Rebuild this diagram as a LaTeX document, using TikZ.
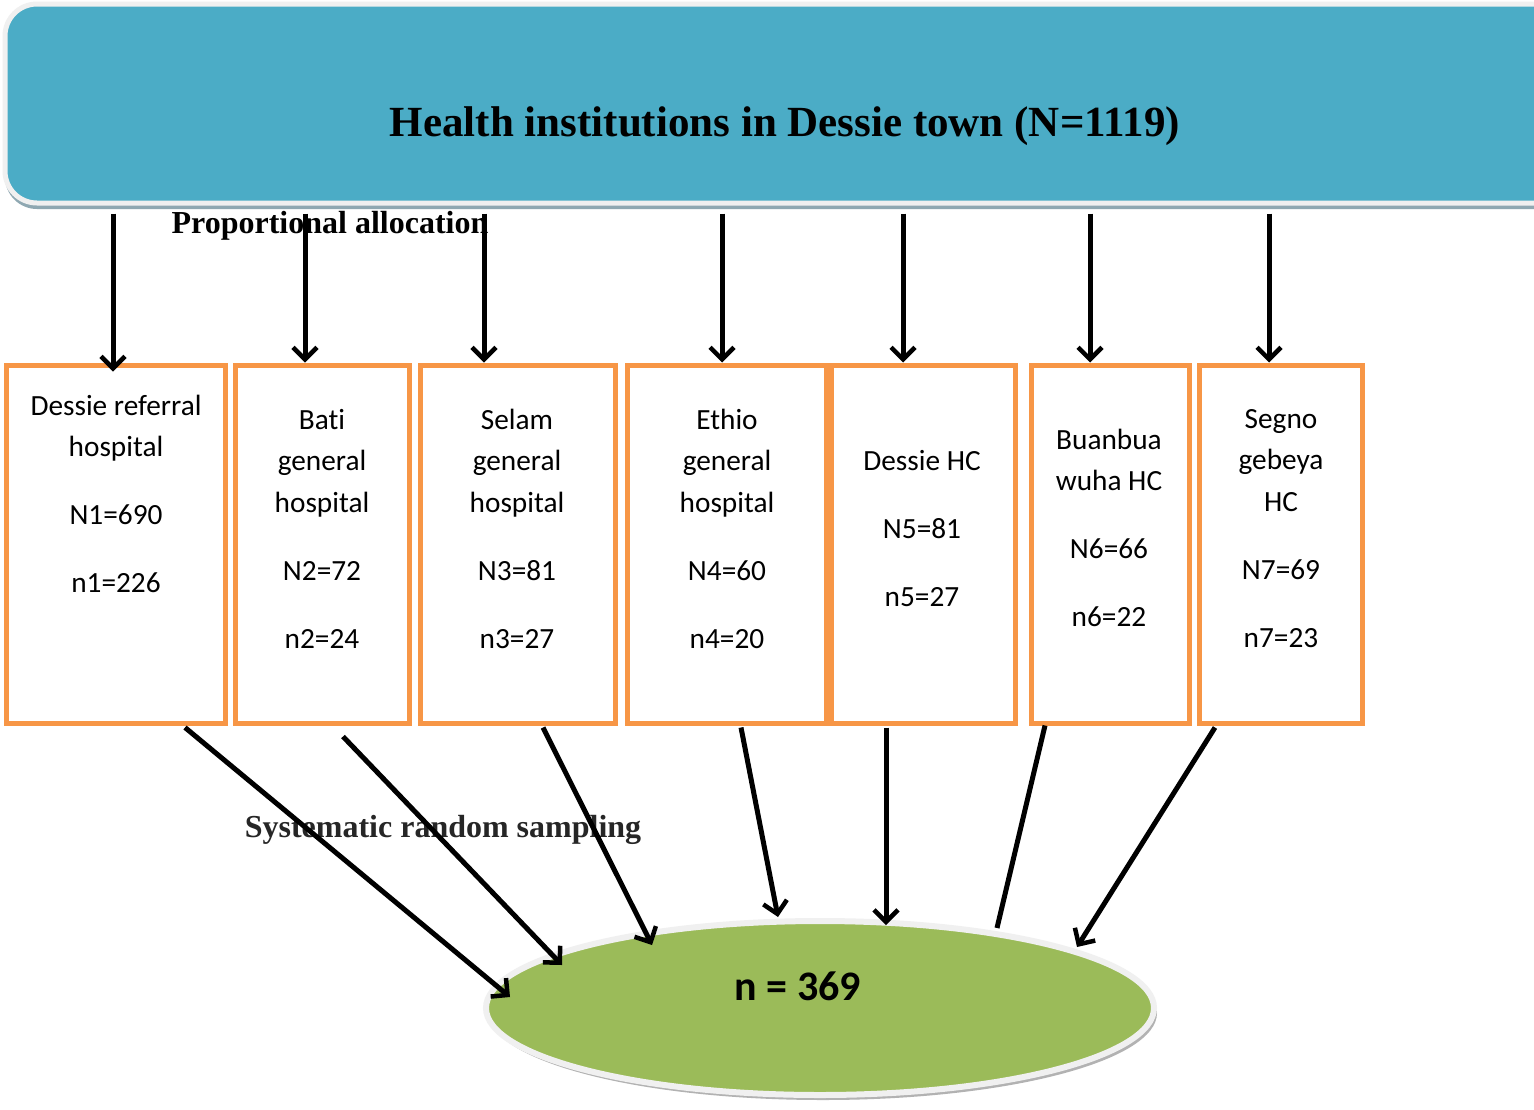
\documentclass[tikz,border=0pt]{standalone}
\usepackage{fontspec}
\setmainfont{Liberation Serif}
\newfontfamily\calibrifont[Ligatures=NoCommon]{Carlito}
\usetikzlibrary{arrows.meta,shapes.geometric,shadows,calc}
\definecolor{boxorange}{HTML}{F79646}
\definecolor{bannerblue}{HTML}{4BACC6}
\definecolor{ellgreen}{HTML}{9BBB59}
\definecolor{ringgray}{HTML}{F0F0F0}
\definecolor{shadowgray}{HTML}{8FA8B2}
\begin{document}
\begin{tikzpicture}[x=1pt,y=-1pt,
  inst/.style={draw=boxorange, line width=5pt, rectangle, inner sep=0pt, minimum height=358pt, minimum width=#1},
  insttext/.style={anchor=north, inner sep=0pt, align=center, font=\calibrifont\fontsize{29.3}{41.5}\selectfont},
  arr/.style={line width=5pt, -{Straight Barb[length=12pt,width=24pt,line width=4.5pt]}},
  plainline/.style={line width=5pt},
  serifbold/.style={font=\bfseries\fontsize{32}{38}\selectfont, inner sep=0pt, anchor=base}
]
\useasboundingbox (0,0) rectangle (1534,1109);
\clip (0,0) rectangle (1534,1109);
\fill[white] (0,0) rectangle (1534,1109);

% banner
\node[draw=ringgray, line width=5pt, fill=bannerblue, rounded corners=32pt,
  minimum width=1595pt, minimum height=199pt, inner sep=0pt,
  drop shadow={shadow xshift=0pt, shadow yshift=-6pt, fill=shadowgray, opacity=1}]
  (banner) at (802.5,103.5) {};
\node[anchor=base, inner sep=0pt, font=\bfseries\fontsize{43}{50}\selectfont] (title) at (785,136)
  {Health institutions in Dessie town (N=1119)};

% labels
\node[serifbold] (prop) at (330,233) {Proportional allocation};
\node[serifbold, text=black!85] (sys) at (443,837) {Systematic random sampling};

% boxes
\node[inst=219.5pt] (box1) at (115.75,544) {};
\node[inst=174pt] (box2) at (322,544) {};
\node[inst=195pt] (box3) at (517.5,544) {};
\node[inst=199pt] (box4) at (726.5,544) {};
\node[inst=184pt] (box5) at (923,544) {};
\node[inst=158pt] (box6) at (1110,544) {};
\node[inst=163pt] (box7) at (1280.5,544) {};

\node[insttext] (t1) at (116,393) {\rule{0pt}{22pt}Dessie referral\\hospital\\[26.5pt]N1=690\\[26.5pt]n1=226};
\node[insttext] (t2) at (322,407) {\rule{0pt}{22pt}Bati\\general\\hospital\\[26.5pt]N2=72\\[26.5pt]n2=24};
\node[insttext] (t3) at (517,407) {\rule{0pt}{22pt}Selam\\general\\hospital\\[26.5pt]N3=81\\[26.5pt]n3=27};
\node[insttext] (t4) at (727,407) {\rule{0pt}{22pt}Ethio\\general\\hospital\\[26.5pt]N4=60\\[26.5pt]n4=20};
\node[insttext] (t5) at (922,448) {\rule{0pt}{22pt}Dessie HC\\[26.5pt]N5=81\\[26.5pt]n5=27};
\node[insttext] (t6) at (1109,427) {\rule{0pt}{22pt}Buanbua\\wuha HC\\[26.5pt]N6=66\\[26.5pt]n6=22};
\node[insttext] (t7) at (1281,406) {\rule{0pt}{22pt}Segno\\gebeya\\HC\\[26.5pt]N7=69\\[26.5pt]n7=23};

% ellipse
\node[ellipse, draw=ringgray, line width=6pt, fill=ellgreen, minimum width=668pt, minimum height=174pt, inner sep=0pt,
  drop shadow={shadow xshift=3pt, shadow yshift=-5pt, fill=black!30, opacity=1}] (ell) at (820,1008) {};
\node[anchor=base, inner sep=0pt, font=\calibrifont\bfseries\fontsize{42}{50}\selectfont] (nres) at (798,1000) {n = 369};

% top arrows
\draw[arr] ($(banner.south -| box1.north)+(-2.75,8)$) -- ($(box1.north)+(-2.75,9)$);
\draw[arr] ($(banner.south -| box2.north)+(-17,8)$) -- ($(box2.north)+(-17,0)$);
\draw[arr] ($(banner.south -| box3.north)+(-33.5,8)$) -- ($(box3.north)+(-33.5,0)$);
\draw[arr] ($(banner.south -| box4.north)+(-4.5,8)$) -- ($(box4.north)+(-4.5,0)$);
\draw[arr] ($(banner.south -| box5.north)+(-20,8)$) -- ($(box5.north)+(-20,0)$);
\draw[arr] ($(banner.south -| box6.north)+(-20,8)$) -- ($(box6.north)+(-20,0)$);
\draw[arr] ($(banner.south -| box7.north)+(-11.5,8)$) -- ($(box7.north)+(-11.5,0)$);

% bottom arrows
\draw[arr] ($(box1.south)+(69.25,2)$) -- ($(ell.center)+(-310,-11)$);
\draw[arr] ($(box2.south)+(21,11)$) -- ($(ell.center)+(-258,-43)$);
\draw[arr] ($(box3.south)+(25.5,2)$) -- ($(ell.center)+(-168,-63)$);
\draw[arr] ($(box4.south)+(14.5,2)$) -- ($(ell.center)+(-42,-91)$);
\draw[arr] ($(box5.south)+(-37,2)$) -- ($(ell.center)+(66,-83)$);
\draw[plainline] ($(box6.south)+(-65,0)$) -- ($(ell.center)+(177,-80)$);
\draw[arr] ($(box7.south)+(-65.5,2)$) -- ($(ell.center)+(257,-61)$);
\end{tikzpicture}
\end{document}
